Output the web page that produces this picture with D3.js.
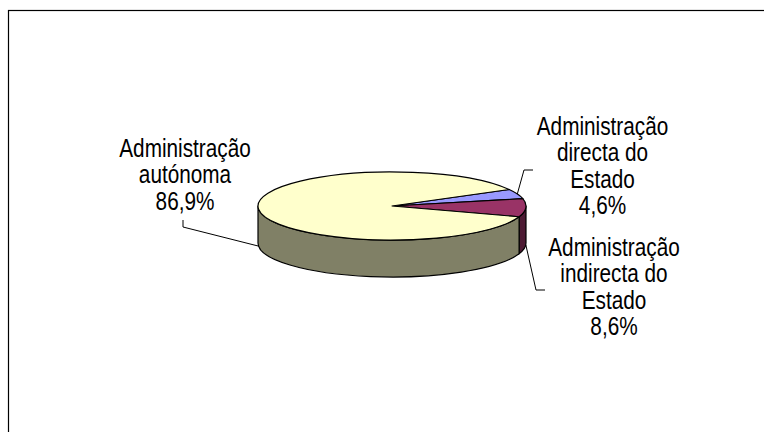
<!DOCTYPE html>
<html>
<head>
<meta charset="utf-8">
<script src="https://cdn.jsdelivr.net/npm/d3@7"></script>
<style>
  body { margin: 0; background: #fff; }
  svg { display: block; }
</style>
</head>
<body>
<div id="chart"></div>
<script>
// Data
const categories = ["Administração directa do Estado", "Administração indirecta do Estado", "Administração autónoma"];
const values = [4.6, 8.6, 86.9];
const valueLabels = ["4,6%", "8,6%", "86,9%"];
const labelLines = [
    ["Administração", "directa do", "Estado"],
    ["Administração", "indirecta do", "Estado"],
    ["Administração", "autónoma"]
];
const topColors = ["#9999FF", "#993366", "#FFFFCC"];
const sideColors = ["#4D4D80", "#4D1A33", "#808066"];

// Layout
const width = 764, height = 432;
const cx = 392, cy = 206, rx = 134, ry = 34, depth = 37;
const labelLayout = [
    { x: 602.5, y: 135, elbow: [524, 170], end: [533, 170] },
    { x: 614, y: 256, elbow: [536, 290], end: [545, 290] },
    { x: 185, y: 157, elbow: [183, 227], end: [183, 220] }
];

const svg = d3.select('#chart')
    .append('svg')
    .attr('width', width)
    .attr('height', height);

// Chart border (right and bottom run past the picture)
svg.append('rect')
    .attr('x', 8.5).attr('y', 10.5)
    .attr('width', 820).attr('height', 500)
    .attr('fill', 'none')
    .attr('stroke', '#000')
    .attr('stroke-width', 1.2);

// Pie angles: start a bit past 12 o'clock, clockwise
const startAngle = 61 * Math.PI / 180;
const pie = d3.pie()
    .value(d => d)
    .sort(null)
    .startAngle(startAngle)
    .endAngle(startAngle + 2 * Math.PI);

const arcs = pie(values).map((d, i) => ({
    i: i,
    s: d.startAngle - Math.PI / 2,   // screen angle, 0 = east, clockwise
    e: d.endAngle - Math.PI / 2
}));

const topPt = t => [cx + rx * Math.cos(t), cy + ry * Math.sin(t)];
const botPt = t => [cx + rx * Math.cos(t), cy + ry * Math.sin(t) + depth];

function wallPaths(s, e) {
    const out = [];
    [-2 * Math.PI, 0, 2 * Math.PI].forEach(k => {
        const a = Math.max(s, k), b = Math.min(e, k + Math.PI);
        if (b > a) {
            const ta = topPt(a), tb = topPt(b), ba = botPt(a), bb = botPt(b);
            out.push(`M${ta}A${rx},${ry} 0 0 1 ${tb}L${bb}A${rx},${ry} 0 0 0 ${ba}Z`);
        }
    });
    return out;
}

function topPath(s, e) {
    const large = (e - s) > Math.PI ? 1 : 0;
    return `M${cx},${cy}L${topPt(s)}A${rx},${ry} 0 ${large} 1 ${topPt(e)}Z`;
}

const g = svg.append('g');

// Side walls
arcs.forEach(a => {
    wallPaths(a.s, a.e).forEach(p => {
        g.append('path')
            .attr('d', p)
            .attr('fill', sideColors[a.i])
            .attr('stroke', '#000')
            .attr('stroke-width', 1.2)
            .attr('stroke-linejoin', 'round');
    });
});

// Top faces
g.selectAll('path.top')
    .data(arcs)
    .enter()
    .append('path')
    .attr('class', 'top')
    .attr('d', a => topPath(a.s, a.e))
    .attr('fill', a => topColors[a.i])
    .attr('stroke', '#000')
    .attr('stroke-width', 1.2)
    .attr('stroke-linejoin', 'round');

// Leader lines
arcs.forEach(a => {
    const m = (a.s + a.e) / 2;
    const p = Math.sin(m) > 0 ? botPt(m) : topPt(m);
    const L = labelLayout[a.i];
    svg.append('path')
        .attr('d', `M${p}L${L.elbow}L${L.end}`)
        .attr('fill', 'none')
        .attr('stroke', '#000')
        .attr('stroke-width', 1);
});

// Labels
categories.forEach((c, i) => {
    const L = labelLayout[i];
    const lines = labelLines[i].concat([valueLabels[i]]);
    const t = svg.append('g')
        .attr('transform', `translate(${L.x},${L.y}) scale(0.83,1)`)
        .append('text')
        .attr('text-anchor', 'middle')
        .style('font-family', '"Liberation Sans", Arial, sans-serif')
        .style('font-size', '25px')
        .attr('fill', '#000');
    lines.forEach((ln, j) => {
        t.append('tspan')
            .attr('x', 0)
            .attr('y', j * 26.4)
            .text(ln);
    });
});
</script>
</body>
</html>
